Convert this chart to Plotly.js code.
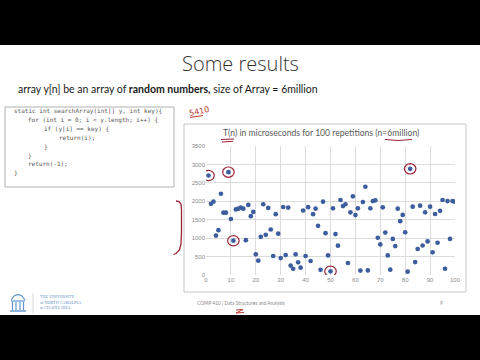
<!DOCTYPE html>
<html>
<head>
<meta charset="utf-8">
<script src="https://cdn.plot.ly/plotly-3.0.1.min.js"></script>
<style>html,body{margin:0;padding:0;background:#fff;}#chart{width:480px;height:360px;}</style>
</head>
<body>
<div id="chart"></div>
<script>
// ---- data ----
const repetitions = [1,2,3,4,5,6,7,8,9,10,11,12,13,14,15,16,17,18,19,20,
  21,22,23,24,25,26,27,28,29,30,31,32,33,34,35,36,37,38,39,40,
  41,42,43,44,45,46,47,48,49,50,51,52,53,54,55,56,57,58,59,60,
  61,62,63,64,65,66,67,68,69,70,71,72,73,74,75,76,77,78,79,80,
  81,82,83,84,85,86,87,88,89,90,91,92,93,94,95,96,97,98,99,100];
const timesMicro = [2700,1930,1990,1070,1215,2205,1690,1690,2790,1520,
  930,1780,1800,1830,1800,945,1900,1595,1710,560,
  390,1035,1920,1090,1820,1235,515,1650,1120,460,
  1845,540,1830,255,170,560,345,200,1750,515,
  1840,380,1650,1800,1335,140,1990,1135,530,100,
  1810,1110,795,2035,1870,1920,325,1700,2135,1625,
  1810,120,1980,2395,125,1810,2005,2025,1010,830,
  1835,1150,530,145,980,785,1800,1460,1630,1160,
  90,2880,1855,350,705,1880,800,1700,910,1855,
  615,1655,875,1740,2035,170,2005,980,2005,1990];
const circledReps = [1, 9, 11, 50, 82];
const xTicks = [0,10,20,30,40,50,60,70,80,90,100];
const yTicks = [0,500,1000,1500,2000,2500,3000,3500];
const slideTitle = "Some results";
const slideSubtitle = "array y[n] be an array of <b>random numbers,</b> size of Array = 6million";
const codeLines = [
  "static int searchArray(int[] y, int key){",
  "for (int i = 0; i < y.length; i++) {",
  "if (y[i] == key) {",
  "return(i);",
  "}",
  "}",
  "return(-1);",
  "}"
];
const codeIndent = [0,1,2,3,2,1,1,0];
const chartTitle = "T(n) in microseconds for 100 repetitions (n=6million)";
const footerCourse = "COMP 410 | Data Structures and Analysis";
const footerUni = ["THE UNIVERSITY", "of NORTH CAROLINA", "at CHAPEL HILL"];
const pageNumber = "9";
const handNote = "5410";

// ---- layout geometry (pixels) ----
const L = 206, R = 455, T = 146, B = 275;
const PX = p => (p - L) / (R - L);
const PY = p => (B - p) / (B - T);

const ink = '#9b2335';
const shapes = [];
const annotations = [];

// black letterbox bars
shapes.push({type:'rect', xref:'paper', yref:'paper', x0:PX(0), x1:PX(480), y0:PY(0), y1:PY(45), fillcolor:'#000', line:{width:0}, layer:'above'});
shapes.push({type:'rect', xref:'paper', yref:'paper', x0:PX(0), x1:PX(480), y0:PY(315), y1:PY(360), fillcolor:'#000', line:{width:0}, layer:'above'});
// code box
shapes.push({type:'rect', xref:'paper', yref:'paper', x0:PX(5), x1:PX(174), y0:PY(107), y1:PY(187), line:{color:'#b0b0b0', width:1}, layer:'below'});
// chart box
shapes.push({type:'rect', xref:'paper', yref:'paper', x0:PX(184), x1:PX(466), y0:PY(124), y1:PY(292), line:{color:'#c4c4c4', width:1}, layer:'below'});

// circles around selected points (from data)
circledReps.forEach(r => {
  const v = timesMicro[repetitions.indexOf(r)];
  shapes.push({type:'circle', xref:'x', yref:'y', x0:r-2.3, x1:r+2.3, y0:v-140, y1:v+140, line:{color:ink, width:1.2}});
});

function pathPx(pts){
  return pts.map((p,i)=> (i?'L':'M') + PX(p[0]).toFixed(4) + ',' + PY(p[1]).toFixed(4)).join(' ');
}
// bracket on the left
shapes.push({type:'path', xref:'paper', yref:'paper', path:pathPx([[176,201],[179,201.5],[181,204],[181.5,210],[181.5,232],[181,244],[179.5,250],[176,253.5],[173.5,254.5]]), line:{color:ink, width:1.3}});
// underlines
shapes.push({type:'path', xref:'paper', yref:'paper', path:pathPx([[221,139.5],[234,139]]), line:{color:ink, width:1}});
shapes.push({type:'path', xref:'paper', yref:'paper', path:pathPx([[222,142],[233,141.3]]), line:{color:ink, width:1}});
shapes.push({type:'path', xref:'paper', yref:'paper', path:pathPx([[385,139.5],[398,140.5],[412,139.5]]), line:{color:ink, width:1}});
shapes.push({type:'path', xref:'paper', yref:'paper', path:pathPx([[190,117.5],[203,115.5]]), line:{color:'#c0392b', width:1}});
// squiggle at bottom
shapes.push({type:'path', xref:'paper', yref:'paper', path:pathPx([[236,310],[243,309.5],[236,313],[244,312.5]]), line:{color:'#c0392b', width:1}});

// UNC logo (Old Well)
const logo = '#5f95cc';
shapes.push({type:'path', xref:'paper', yref:'paper', path:pathPx([[11,300],[14,296],[18,294.5],[22,296],[25,300]]), line:{color:logo, width:1.2}});
shapes.push({type:'path', xref:'paper', yref:'paper', path:pathPx([[11,301],[25,301]]), line:{color:logo, width:1.2}});
[12.5,16,20,23.5].forEach(cx=>{
  shapes.push({type:'path', xref:'paper', yref:'paper', path:pathPx([[cx,302],[cx,310]]), line:{color:logo, width:1.2}});
});
shapes.push({type:'path', xref:'paper', yref:'paper', path:pathPx([[10,311],[26,311]]), line:{color:logo, width:1.4}});
shapes.push({type:'path', xref:'paper', yref:'paper', path:pathPx([[33,293],[33,313]]), line:{color:'#cfcfcf', width:0.8}});

// texts
function txt(text, x, y, opts){
  annotations.push(Object.assign({text:text, xref:'paper', yref:'paper', x:PX(x), y:PY(y), showarrow:false, xanchor:'left', yanchor:'middle', borderpad:0}, opts||{}));
}
txt(slideTitle, 240, 63, {xanchor:'center', font:{family:'Open Sans, sans-serif', size:20, weight:300, color:'#333333'}});
txt(slideSubtitle, 17, 89, {font:{family:'Lato, sans-serif', size:10.5, color:'#1a1a1a'}});
const codeY = [110.7,120,128.7,137.7,146.7,155.7,163.5,172.3];
const codeX = [13,27,43,58];
codeLines.forEach((ln,i)=>{
  txt(ln, codeX[codeIndent[i]], codeY[i], {font:{family:'DejaVu Sans Mono, monospace', size:6, color:'#555'}});
});
txt(chartTitle, 321, 133, {xanchor:'center', font:{family:'Lato, sans-serif', size:8.6, color:'#595959'}});
txt(handNote, 199, 111, {xanchor:'center', textangle:-12, font:{family:'DejaVu Sans, sans-serif', size:8, color:'#c0392b'}});
footerUni.forEach((t,i)=>{
  txt(t, 39, 296.5 + i*5.5, {font:{family:'Liberation Serif, serif', size:4.2, color:'#5f8fc4'}});
});
txt(footerCourse, 240, 302.5, {xanchor:'center', font:{family:'Lato, sans-serif', size:4.8, color:'#8a8a8a'}});
txt(pageNumber, 441, 302.5, {xanchor:'center', font:{family:'Lato, sans-serif', size:4.8, color:'#8a8a8a'}});

const trace = {
  x: repetitions, y: timesMicro, type:'scatter', mode:'markers',
  marker:{color:'#3c5d9e', size:4.7}, hoverinfo:'skip'
};

const layout = {
  width:480, height:360,
  margin:{l:L, r:480-R, t:T, b:360-B, pad:0},
  paper_bgcolor:'#fff', plot_bgcolor:'#fff',
  showlegend:false,
  xaxis:{range:[0,100], tickvals:xTicks, ticktext:xTicks.map(String), showgrid:true, gridcolor:'#dcdcdc', gridwidth:1,
         zeroline:false, showline:false, ticks:'', tickfont:{family:'Liberation Sans, sans-serif', size:6, color:'#8c8c8c'}, fixedrange:true},
  yaxis:{range:[0,3500], tickvals:yTicks, ticktext:yTicks.map(String), showgrid:true, gridcolor:'#dcdcdc', gridwidth:1,
         zeroline:false, showline:false, ticks:'', tickfont:{family:'Liberation Sans, sans-serif', size:6, color:'#8c8c8c'}, fixedrange:true},
  shapes:shapes,
  annotations:annotations
};
Plotly.newPlot('chart', [trace], layout, {staticPlot:true, displayModeBar:false});
</script>
</body>
</html>
